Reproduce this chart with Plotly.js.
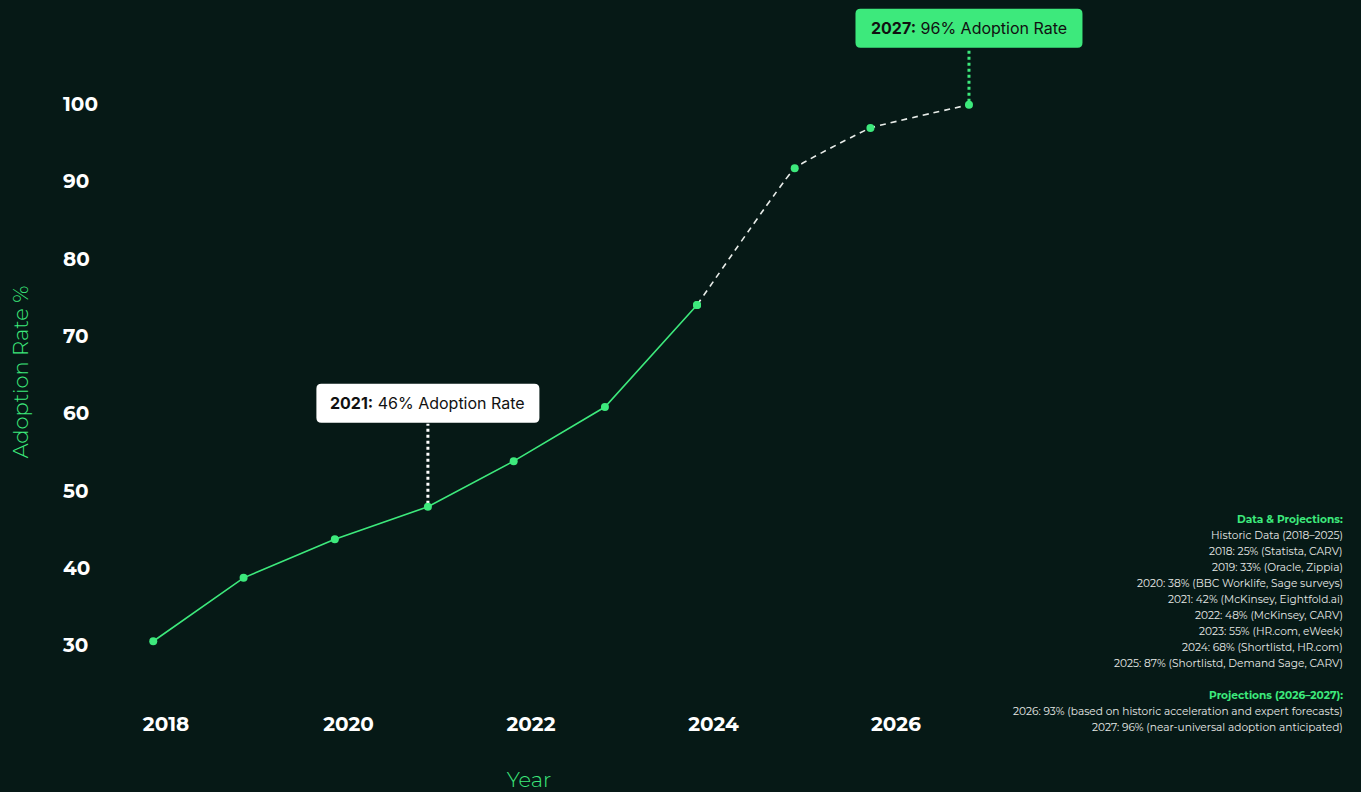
<!DOCTYPE html>
<html>
<head>
<meta charset="utf-8">
<script src="https://cdn.plot.ly/plotly-3.0.1.min.js"></script>
<style>
  html, body { margin: 0; padding: 0; background: #061916; }
  #chart { width: 1361px; height: 792px; }
</style>
</head>
<body>
<div id="chart"></div>
<script>
// ---- data ----
const years = [2018, 2019, 2020, 2021, 2022, 2023, 2024, 2025, 2026, 2027];
// x positions as drawn on the time axis (decimal years)
const xPos = [2017.86, 2018.85, 2019.85, 2020.87, 2021.81, 2022.81, 2023.82, 2024.89, 2025.72, 2026.80];
const adoption = [30.5, 38.7, 43.7, 47.9, 53.8, 60.8, 74.0, 91.7, 96.9, 99.9];
const historicCount = 7;   // 2018–2024 solid, 2024–2027 projected dashed
const xTickVals = [2018, 2020, 2022, 2024, 2026];
const xTickText = ['2018', '2020', '2022', '2024', '2026'];
const yTickVals = [30, 40, 50, 60, 70, 80, 90, 100];
const callouts = [
  { index: 3, label: '2021:', text: '46% Adoption Rate' },
  { index: 9, label: '2027:', text: '96% Adoption Rate' }
];
const notesTitle = 'Data & Projections:';
const notesLines = [
  'Historic Data (2018–2025)',
  '2018: 25% (Statista, CARV)',
  '2019: 33% (Oracle, Zippia)',
  '2020: 38% (BBC Worklife, Sage surveys)',
  '2021: 42% (McKinsey, Eightfold.ai)',
  '2022: 48% (McKinsey, CARV)',
  '2023: 55% (HR.com, eWeek)',
  '2024: 68% (Shortlistd, HR.com)',
  '2025: 87% (Shortlistd, Demand Sage, CARV)'
];
const projTitle = 'Projections (2026–2027):';
const projLines = [
  '2026: 93% (based on historic acceleration and expert forecasts)',
  '2027: 96% (near-universal adoption anticipated)'
];

// ---- styles ----
const BG = '#061916';
const GREEN = '#3de97c';
const FONT = 'Montserrat, Lato, sans-serif';
const M = { l: 60, r: 363, t: 44, b: 92 };
const PLOT_H = 792 - M.t - M.b;
const PLOT_W = 1361 - M.l - M.r;
const X_RANGE = [2016.838, 2027.118];
const Y_RANGE = [22.9, 107.76];

const solid = {
  x: xPos.slice(0, historicCount),
  y: adoption.slice(0, historicCount),
  mode: 'lines+markers',
  type: 'scatter',
  line: { color: GREEN, width: 1.6 },
  marker: { color: GREEN, size: 8 },
  hoverinfo: 'skip',
  showlegend: false
};
const dashed = {
  x: xPos.slice(historicCount - 1),
  y: adoption.slice(historicCount - 1),
  mode: 'lines+markers',
  type: 'scatter',
  line: { color: '#e8ece9', width: 1.6, dash: '6px,5px', shape: 'spline', smoothing: 0.22 },
  marker: { color: GREEN, size: 8 },
  hoverinfo: 'skip',
  showlegend: false,
  cliponaxis: false
};

function roundRect(x0, y0, x1, y1, r) {
  // pixel path, y up
  return 'M' + (x0 + r) + ',' + y0 + ' L' + (x1 - r) + ',' + y0 +
    ' Q' + x1 + ',' + y0 + ' ' + x1 + ',' + (y0 + r) +
    ' L' + x1 + ',' + (y1 - r) +
    ' Q' + x1 + ',' + y1 + ' ' + (x1 - r) + ',' + y1 +
    ' L' + (x0 + r) + ',' + y1 +
    ' Q' + x0 + ',' + y1 + ' ' + x0 + ',' + (y1 - r) +
    ' L' + x0 + ',' + (y0 + r) +
    ' Q' + x0 + ',' + y0 + ' ' + (x0 + r) + ',' + y0 + ' Z';
}

const annotations = [];
const shapes = [];
callouts.forEach((c, k) => {
  const isLast = k === callouts.length - 1;
  const bg = isLast ? GREEN : '#ffffff';
  const lift = isLast ? 57 : 84;
  const w = isLast ? 227 : 223;
  const h = 39;
  // anchor in domain units so the box is not clipped at the plot edges
  const xDom = (xPos[c.index] - X_RANGE[0]) / (X_RANGE[1] - X_RANGE[0]);
  const yDom = (adoption[c.index] - Y_RANGE[0]) / (Y_RANGE[1] - Y_RANGE[0]);
  shapes.push({
    type: 'line', xref: 'x', yref: 'y', ysizemode: 'pixel',
    yanchor: adoption[c.index],
    x0: xPos[c.index], x1: xPos[c.index], y0: 3, y1: lift - 1,
    line: { color: isLast ? GREEN : '#ffffff', width: 3, dash: 'dot' },
    layer: 'below'
  });
  shapes.push({
    type: 'path', xref: 'x domain', yref: 'y domain', xsizemode: 'pixel', ysizemode: 'pixel',
    xanchor: xDom, yanchor: yDom,
    path: roundRect(-w / 2, lift, w / 2, lift + h, 5),
    fillcolor: bg, line: { width: 0 }, layer: 'above'
  });
  annotations.push({
    x: xPos[c.index], y: adoption[c.index], xref: 'x', yref: 'y',
    text: '<b>' + c.label + '</b> ' + c.text,
    showarrow: false, yanchor: 'middle', yshift: lift + h / 2,
    font: { family: 'Inter, sans-serif', size: 16, color: '#111111' }
  });
});

// notes block on the right, one line every 16px
const noteRows = [];
noteRows.push({ t: notesTitle, head: true });
notesLines.forEach(s => noteRows.push({ t: s }));
noteRows.push(null);
noteRows.push({ t: projTitle, head: true });
projLines.forEach(s => noteRows.push({ t: s }));
const firstRowY = 519, rowStep = 16, rightEdge = 1345;
noteRows.forEach((row, i) => {
  if (!row) return;
  const ypx = firstRowY + i * rowStep;
  annotations.push({
    xref: 'paper', yref: 'paper',
    x: (rightEdge - M.l) / PLOT_W, y: (792 - M.b - ypx) / PLOT_H,
    xanchor: 'right', yanchor: 'middle', align: 'right', showarrow: false,
    text: row.head ? '<b>' + row.t + '</b>' : row.t,
    font: { family: FONT, size: 10.6, color: row.head ? GREEN : '#e6e9e7' }
  });
});

const layout = {
  width: 1361, height: 792,
  paper_bgcolor: BG, plot_bgcolor: BG,
  margin: M,
  xaxis: {
    range: X_RANGE,
    tickvals: xTickVals, ticktext: xTickText,
    showgrid: false, zeroline: false, showline: false, ticks: '',
    ticklabelstandoff: 10,
    tickfont: { family: FONT, size: 20, color: '#ffffff', weight: 700 },
    title: { text: 'Year', standoff: 43, font: { family: FONT, size: 21, color: GREEN, weight: 300 } }
  },
  yaxis: {
    range: Y_RANGE,
    tickvals: yTickVals,
    showgrid: false, zeroline: false, showline: false, ticks: '',
    ticklabelposition: 'inside',
    tickfont: { family: FONT, size: 20, color: '#ffffff', weight: 700 },
    title: { text: 'Adoption Rate %', standoff: 27, font: { family: FONT, size: 21, color: GREEN, weight: 300 } }
  },
  annotations: annotations,
  shapes: shapes
};

Plotly.newPlot('chart', [solid, dashed], layout, { displayModeBar: false, staticPlot: true });
</script>
</body>
</html>
